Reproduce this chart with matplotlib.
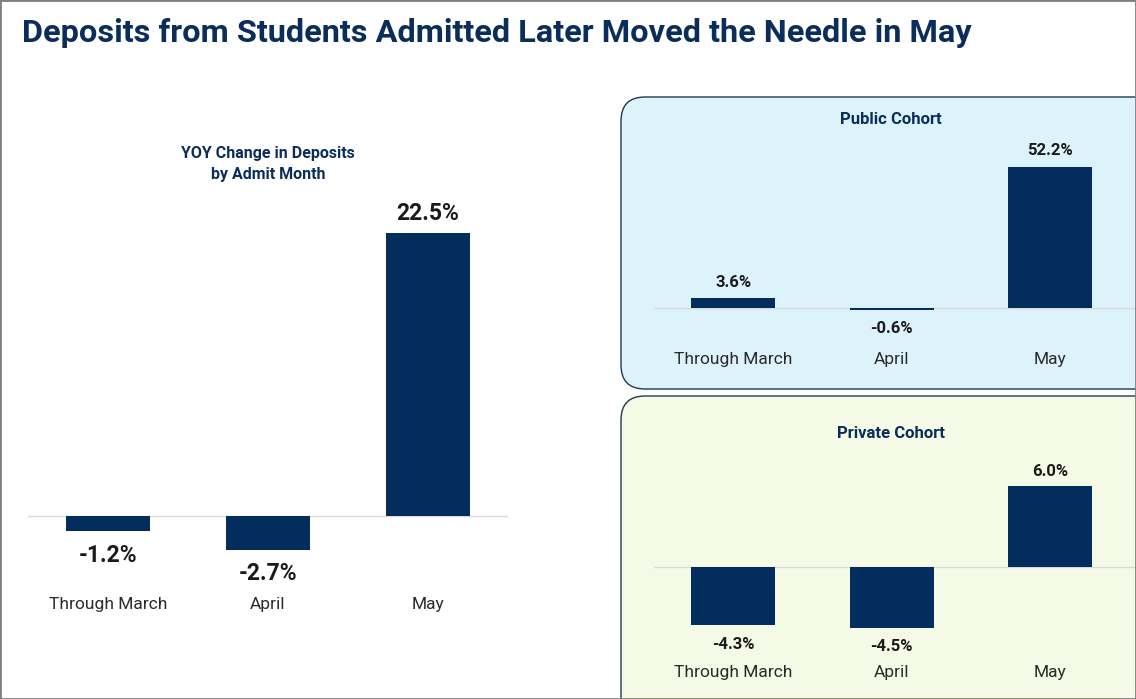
import matplotlib.pyplot as plt
from matplotlib.patches import FancyBboxPatch, Rectangle

# data
months = ['Through March', 'April', 'May']
overall = [-1.2, -2.7, 22.5]
public = [3.6, -0.6, 52.2]
private = [-4.3, -4.5, 6.0]

NAVY = '#022D5C'
TITLE = '#0B2D5B'
LABEL = '#1A1A1A'
CAT = '#2A2A2A'
FONT = 'Roboto'

W, H = 1136, 699
fig = plt.figure(figsize=(W / 100, H / 100), dpi=100)


def px_axes(x0, x1, y0, y1):
    # axes from pixel box (y measured from top)
    return fig.add_axes([x0 / W, 1 - y1 / H, (x1 - x0) / W, (y1 - y0) / H])


def bar_panel(ax, vals, zero_px, top_px, bot_px, scale, lab_size, cat_y, up_off, dn_off):
    # limits so that 1 unit = scale px and 0 sits on zero_px
    ax.set_xlim(-0.5, 2.5)
    ax.set_ylim(-(bot_px - zero_px) / scale, (zero_px - top_px) / scale)
    ax.bar(range(3), vals, width=0.53, color=NAVY, zorder=3)
    for i, v in enumerate(vals):
        off = up_off if v >= 0 else -dn_off
        ax.annotate(f'{v:.1f}%', (i, v), xytext=(0, off * 0.72), textcoords='offset points',
                    ha='center', va='center',
                    fontsize=lab_size, fontweight='bold', color=LABEL, family=FONT)
    for i, m in enumerate(months):
        ax.text(i, cat_y, m, ha='center', va='center', fontsize=12.5,
                color=CAT, family=FONT, fontweight='normal')
    ax.axis('off')
    ax.patch.set_visible(False)


# figure border
fig.patches.append(Rectangle((0, 0), 1, 1, transform=fig.transFigure, fill=False,
                             edgecolor='#7F7F7F', lw=2, zorder=10))

fig.text(22 / W, 1 - 33 / H, 'Deposits from Students Admitted Later Moved the Needle in May',
         ha='left', va='center', fontsize=23.4, fontweight='bold', color=TITLE, family=FONT)

# left chart
fig.text(268 / W, 1 - 164 / H, 'YOY Change in Deposits\nby Admit Month', ha='center',
         va='center', fontsize=11.5, fontweight='bold', color=TITLE, family=FONT,
         linespacing=1.5)
ax1 = px_axes(28, 508, 190, 640)
s1 = 283 / 22.5
bar_panel(ax1, overall, 516, 190, 640, s1, 16.5, -(604 - 516) / s1, 19, 24)
ax1.axhline(0, color='#D9D9D9', lw=1, zorder=2)

# rounded panels (in inches so corners stay circular)
for (y_top, y_bot, fc, title, ty) in [(97, 389, '#DDF3FC', 'Public Cohort', 119),
                                      (396, 720, '#F5FAE6', 'Private Cohort', 433)]:
    fig.patches.append(FancyBboxPatch((621 / 100, (H - y_bot) / 100), 6.0, (y_bot - y_top) / 100,
                                      boxstyle='round,pad=0,rounding_size=0.24',
                                      transform=fig.dpi_scale_trans, facecolor=fc,
                                      edgecolor='#1F3A4D', lw=1, zorder=-1))
    fig.text(891 / W, 1 - ty / H, title, ha='center', va='center', fontsize=12,
             fontweight='bold', color=TITLE, family=FONT)

ax2 = px_axes(654, 1129.5, 140, 380)
s2 = 141 / 52.2
bar_panel(ax2, public, 308, 140, 380, s2, 12, -(360 - 308) / s2, 16, 19)

ax3 = px_axes(654, 1129.5, 450, 690)
s3 = 81 / 6.0
bar_panel(ax3, private, 567, 450, 690, s3, 12, -(673 - 567) / s3, 15, 19)

for a in (ax2, ax3):
    a.axhline(0, xmin=0, xmax=1.1, color='#D9D9D9', lw=1, clip_on=False, zorder=2)

fig.savefig('out.png', dpi=100)
